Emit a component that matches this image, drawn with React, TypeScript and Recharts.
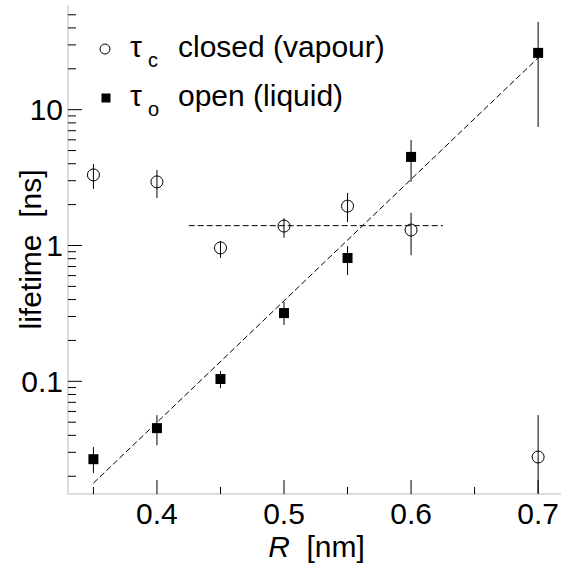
import {
  ComposedChart,
  Scatter,
  Line,
  XAxis,
  YAxis,
  ErrorBar,
  Legend,
} from "recharts";

// radius R [nm] of each measured point
const rValues = [0.35, 0.4, 0.45, 0.5, 0.55, 0.6, 0.7];

// tau_c, closed (vapour) lifetimes [ns] with error bar ends
const closedTau = [3.31, 2.94, 0.96, 1.39, 1.95, 1.3, 0.0277];
const closedLow = [2.61, 2.24, 0.81, 1.14, 1.49, 0.85, 0.0148];
const closedHigh = [3.98, 3.6, 1.08, 1.59, 2.44, 1.74, 0.0564];

// tau_o, open (liquid) lifetimes [ns] with error bar ends
const openTau = [0.0267, 0.0452, 0.104, 0.318, 0.809, 4.49, 26.2];
const openLow = [0.0211, 0.0339, 0.089, 0.26, 0.607, 2.94, 7.46];
const openHigh = [0.0328, 0.0564, 0.119, 0.384, 0.99, 5.98, 44.3];

// dashed guides: exponential fit and flat level
const fitR = [0.35, 0.7];
const fitTau = [0.0178, 24.1];
const flatR = [0.425, 0.625];
const flatTau = [1.4, 1.4];

const xTicks = [0.35, 0.4, 0.45, 0.5, 0.55, 0.6, 0.65, 0.7];
const xLabelled = [0.4, 0.5, 0.6, 0.7];
const yTicks = [
  0.02, 0.03, 0.04, 0.05, 0.06, 0.07, 0.08, 0.09,
  0.1, 0.2, 0.3, 0.4, 0.5, 0.6, 0.7, 0.8, 0.9,
  1, 2, 3, 4, 5, 6, 7, 8, 9,
  10, 20, 30, 40, 50,
];
const yLabelled = [0.1, 1, 10];

const legendRows = [
  { sub: "c", label: "closed (vapour)", marker: "circle" },
  { sub: "o", label: "open (liquid)", marker: "square" },
];

const FONT = '"Liberation Sans", Arial, Helvetica, sans-serif';
const AXIS_GREY = "#d2d2d2";

const closedData = rValues.map((r, i) => ({
  r,
  t: closedTau[i],
  err: [closedTau[i] - closedLow[i], closedHigh[i] - closedTau[i]],
}));
const openData = rValues.map((r, i) => ({
  r,
  t: openTau[i],
  err: [openTau[i] - openLow[i], openHigh[i] - openTau[i]],
}));
const fitData = fitR.map((r, i) => ({ r, t: fitTau[i] }));
const flatData = flatR.map((r, i) => ({ r, t: flatTau[i] }));

const isIn = (list: number[], v: number) =>
  list.some((m) => Math.abs(m - v) < 1e-9);

const XTick = (props: any) => {
  const { x, y, payload } = props;
  const major = isIn(xLabelled, payload.value);
  return (
    <g>
      <line x1={x} x2={x} y1={y} y2={y - (major ? 14 : 7)} stroke="#000" />
      {major && (
        <text
          x={x}
          y={y + 30}
          textAnchor="middle"
          fontSize={30}
          fontFamily={FONT}
          fill="#000"
        >
          {payload.value}
        </text>
      )}
    </g>
  );
};

const YTick = (props: any) => {
  const { x, y, payload } = props;
  const major = isIn(yLabelled, payload.value);
  return (
    <g>
      <line x1={x} x2={x + (major ? 14 : 8)} y1={y} y2={y} stroke="#000" />
      {major && (
        <text
          x={x - 5}
          y={y}
          dy="0.36em"
          textAnchor="end"
          fontSize={30}
          fontFamily={FONT}
          fill="#000"
        >
          {payload.value}
        </text>
      )}
    </g>
  );
};

const XTitle = (props: any) => {
  const vb = props.viewBox;
  return (
    <text
      x={vb.x + vb.width / 2 + 2}
      y={vb.y + 63}
      textAnchor="middle"
      fontSize={30}
      fontFamily={FONT}
      fill="#000"
    >
      <tspan fontStyle="italic">R</tspan>
      <tspan>{"\u00a0\u00a0[nm]"}</tspan>
    </text>
  );
};

const YTitle = (props: any) => {
  const vb = props.viewBox;
  const cx = vb.x + 41;
  const cy = vb.y + vb.height / 2;
  return (
    <text
      x={cx}
      y={cy}
      transform={`rotate(-90 ${cx} ${cy})`}
      textAnchor="middle"
      fontSize={30}
      fontFamily={FONT}
      fill="#000"
    >
      {"lifetime\u00a0\u00a0[ns]"}
    </text>
  );
};

const OpenCircle = (p: any) => (
  <circle cx={p.cx} cy={p.cy} r={6} fill="none" stroke="#000" strokeWidth={1} />
);
const FilledSquare = (p: any) => (
  <rect x={p.cx - 5} y={p.cy - 5} width={10} height={10} fill="#000" />
);

const LegendBox = () => (
  <svg width={400} height={130} style={{ display: "block" }}>
    {legendRows.map((row, i) => {
      const base = 57 + i * 49;
      return (
        <g key={row.sub} fontFamily={FONT} fill="#000">
          {row.marker === "circle" ? (
            <circle cx={105} cy={base - 8} r={5} fill="none" stroke="#000" />
          ) : (
            <rect x={101.5} y={base - 12.5} width={9} height={9} fill="#000" />
          )}
          <text x={130} y={base} fontSize={30}>
            τ
          </text>
          <text x={148} y={base + 10} fontSize={20}>
            {row.sub}
          </text>
          <text x={178} y={base} fontSize={30}>
            {row.label}
          </text>
        </g>
      );
    })}
  </svg>
);

export default function App() {
  return (
    <div style={{ width: 561, height: 572, background: "#fff" }}>
      <style>{"body{margin:0}"}</style>
      <ComposedChart
        width={561}
        height={572}
        margin={{ top: 5, right: 0, bottom: 0, left: 0 }}
        style={{ fontFamily: FONT }}
      >
        <XAxis
          type="number"
          dataKey="r"
          domain={[0.33, 0.718]}
          allowDataOverflow
          ticks={xTicks}
          interval={0}
          height={78}
          tickSize={0}
          tickMargin={0}
          tickLine={false}
          tick={<XTick />}
          axisLine={{ stroke: AXIS_GREY, strokeWidth: 1.5 }}
          label={{ content: XTitle }}
        />
        <YAxis
          type="number"
          scale="log"
          domain={[0.0148, 59]}
          allowDataOverflow
          ticks={yTicks}
          interval={0}
          width={68}
          tickSize={0}
          tickMargin={0}
          tickLine={false}
          tick={<YTick />}
          axisLine={{ stroke: AXIS_GREY, strokeWidth: 1.5 }}
          label={{ content: YTitle }}
        />
        <Line
          data={fitData}
          dataKey="t"
          stroke="#000"
          strokeWidth={1}
          strokeDasharray="6 3"
          dot={false}
          activeDot={false}
          legendType="none"
          isAnimationActive={false}
        />
        <Line
          data={flatData}
          dataKey="t"
          stroke="#000"
          strokeWidth={1}
          strokeDasharray="6 3"
          dot={false}
          activeDot={false}
          legendType="none"
          isAnimationActive={false}
        />
        <Scatter
          name="closed (vapour)"
          data={closedData}
          dataKey="t"
          shape={OpenCircle}
          isAnimationActive={false}
        >
          <ErrorBar dataKey="err" direction="y" width={0} stroke="#000" strokeWidth={1} />
        </Scatter>
        <Scatter
          name="open (liquid)"
          data={openData}
          dataKey="t"
          shape={FilledSquare}
          isAnimationActive={false}
        >
          <ErrorBar dataKey="err" direction="y" width={0} stroke="#000" strokeWidth={1} />
        </Scatter>
        <Legend
          layout="horizontal"
          verticalAlign="middle"
          align="center"
          wrapperStyle={{ position: "absolute", top: 0, left: 0, width: 400, height: 130 }}
          content={LegendBox}
        />
      </ComposedChart>
    </div>
  );
}
